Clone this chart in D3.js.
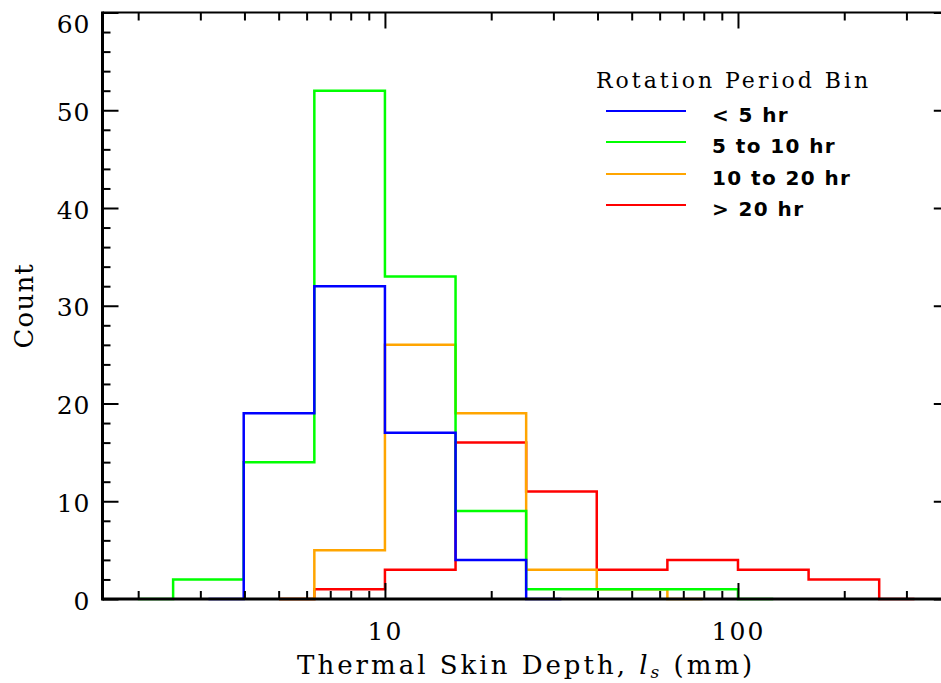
<!DOCTYPE html>
<html>
<head>
<meta charset="utf-8">
<script src="https://cdn.jsdelivr.net/npm/d3@7"></script>
<style>
  html, body { margin: 0; padding: 0; background: #fff; }
  svg { display: block; }
</style>
</head>
<body>
<svg id="chart" width="941" height="683"></svg>
<script>
// ---------- DATA ----------
const binEdges = [1.585, 2.512, 3.981, 6.310, 10, 15.85, 25.12, 39.81, 63.10, 100, 158.5, 251.2, 398.1];
// counts per bin (null = not drawn); leading/trailing zero bins drawn half-width (IDL psym=10 style)
const countsLt5   = [null, 0, 19, 32, 17, 4, 0, null, null, null, null, null];
const counts5to10 = [0, 2, 14, 52, 33, 9, 1, 1, 1, 0, null, null];
const counts10to20= [null, null, 0, 5, 26, 19, 3, 1, 0, null, null, null];
const countsGt20  = [null, null, 0, 1, 3, 16, 11, 3, 4, 3, 2, 0];
const seriesNames = ["< 5 hr", "5 to 10 hr", "10 to 20 hr", "> 20 hr"];
const seriesColors = ["#0000ff", "#00ff00", "#ffa500", "#ff0000"];
const xMajorTicks = [10, 100];
const xMinorTicks = [2,3,4,5,6,7,8,9,20,30,40,50,60,70,80,90,200,300];
const yMajorTicks = [0, 10, 20, 30, 40, 50, 60];
const yMinorTicks = [2,4,6,8,12,14,16,18,22,24,26,28,32,34,36,38,42,44,46,48,52,54,56,58];
const legendTitle = "Rotation Period Bin";
const yTitle = "Count";

// ---------- LAYOUT ----------
const svg = d3.select("#chart");
const L = 102.5, R = 949.8, T = 12.5, B = 599;
const serif = "'DejaVu Serif', serif";
const x = d3.scaleLog().domain([Math.pow(10, 0.2), Math.pow(10, 2.6)]).range([L, R]);
const y = d3.scaleLinear().domain([0, 60]).range([B, T]);

// ---------- HISTOGRAMS ----------
function stepPath(counts) {
  const idx = counts.map((c, i) => c === null ? -1 : i).filter(i => i >= 0);
  const first = idx[0], last = idx[idx.length - 1];
  const pts = [];
  const ctr = i => Math.sqrt(binEdges[i] * binEdges[i + 1]);
  pts.push([x(ctr(first)), y(counts[first])]);
  for (let i = first; i < last; i++) {
    pts.push([x(binEdges[i + 1]), y(counts[i])]);
    pts.push([x(binEdges[i + 1]), y(counts[i + 1])]);
  }
  pts.push([x(ctr(last)), y(counts[last])]);
  return d3.line()(pts);
}
const allSeries = [countsLt5, counts5to10, counts10to20, countsGt20];
// draw order: red, orange, green, blue (blue on top)
[3, 2, 1, 0].forEach(k => {
  svg.append("path")
    .attr("d", stepPath(allSeries[k]))
    .attr("fill", "none")
    .attr("stroke", seriesColors[k])
    .attr("stroke-width", 2.5)
    .attr("stroke-linejoin", "miter");
});

// ---------- AXES ----------
function styleAxis(g) {
  g.select(".domain").remove();
  g.selectAll(".tick line").attr("stroke", "#000").attr("stroke-width", 2);
  g.selectAll("text").attr("fill", "#000").attr("font-family", serif).attr("font-size", 25);
}
// bottom
svg.append("g").attr("transform", `translate(0,${B})`)
  .call(d3.axisBottom(x).tickValues(xMajorTicks).tickFormat(d3.format("d")).tickSize(-16).tickPadding(23))
  .call(styleAxis)
  .call(g => g.selectAll("text").attr("letter-spacing", 2));
svg.append("g").attr("transform", `translate(0,${B})`)
  .call(d3.axisBottom(x).tickValues(xMinorTicks).tickFormat("").tickSize(-8))
  .call(styleAxis);
// top
svg.append("g").attr("transform", `translate(0,${T})`)
  .call(d3.axisTop(x).tickValues(xMajorTicks).tickFormat("").tickSize(-16))
  .call(styleAxis);
svg.append("g").attr("transform", `translate(0,${T})`)
  .call(d3.axisTop(x).tickValues(xMinorTicks).tickFormat("").tickSize(-8))
  .call(styleAxis);
// left
svg.append("g").attr("transform", `translate(${L},0)`)
  .call(d3.axisLeft(y).tickValues(yMajorTicks).tickFormat(d3.format("d")).tickSize(-16).tickPadding(12))
  .call(styleAxis)
  .call(g => g.selectAll("text")
    .attr("letter-spacing", 1)
    .attr("dy", d => d === 60 ? "0.78em" : "0.40em"));
svg.append("g").attr("transform", `translate(${L},0)`)
  .call(d3.axisLeft(y).tickValues(yMinorTicks).tickFormat("").tickSize(-8))
  .call(styleAxis);
// right
svg.append("g").attr("transform", `translate(${R},0)`)
  .call(d3.axisRight(y).tickValues(yMajorTicks).tickFormat("").tickSize(-16))
  .call(styleAxis);
svg.append("g").attr("transform", `translate(${R},0)`)
  .call(d3.axisRight(y).tickValues(yMinorTicks).tickFormat("").tickSize(-8))
  .call(styleAxis);

// frame
svg.append("line").attr("x1", L).attr("x2", R).attr("y1", B).attr("y2", B).attr("stroke", "#000").attr("stroke-width", 3);
svg.append("line").attr("x1", L).attr("x2", R).attr("y1", T).attr("y2", T).attr("stroke", "#000").attr("stroke-width", 2);
svg.append("line").attr("x1", L).attr("x2", L).attr("y1", T - 1).attr("y2", B + 1.5).attr("stroke", "#000").attr("stroke-width", 3);
svg.append("line").attr("x1", R).attr("x2", R).attr("y1", T).attr("y2", B).attr("stroke", "#000").attr("stroke-width", 2);

// ---------- TITLES ----------
const xt = svg.append("text")
  .attr("x", (L + R) / 2).attr("y", 674)
  .attr("text-anchor", "middle")
  .attr("font-family", serif).attr("font-size", 26).attr("letter-spacing", 3).attr("fill", "#000");
xt.append("tspan").text("Thermal Skin Depth, ");
xt.append("tspan").attr("font-style", "italic").text("l");
xt.append("tspan").attr("font-size", 17).attr("font-style", "italic").attr("dy", 4).text("s");
xt.append("tspan").attr("dy", -4).text(" (mm)");

svg.append("text")
  .attr("transform", `translate(33,${(T + B) / 2}) rotate(-90)`)
  .attr("text-anchor", "middle")
  .attr("font-family", serif).attr("font-size", 26).attr("letter-spacing", 1.2).attr("fill", "#000")
  .text(yTitle);

// ---------- LEGEND ----------
svg.append("text")
  .attr("x", 596).attr("y", 88)
  .attr("font-family", serif).attr("font-size", 22).attr("letter-spacing", 3).attr("fill", "#000")
  .text(legendTitle);
const legY = [111, 142, 174, 205];
seriesNames.forEach((name, i) => {
  svg.append("line")
    .attr("x1", 606).attr("x2", 686).attr("y1", legY[i]).attr("y2", legY[i])
    .attr("stroke", seriesColors[i]).attr("stroke-width", 2);
  svg.append("text")
    .attr("x", 712).attr("y", legY[i] + 11)
    .attr("font-family", "'DejaVu Sans', sans-serif").attr("font-weight", "bold")
    .attr("font-size", 20).attr("letter-spacing", 1.4).attr("fill", "#000")
    .text(name);
});
</script>
</body>
</html>
